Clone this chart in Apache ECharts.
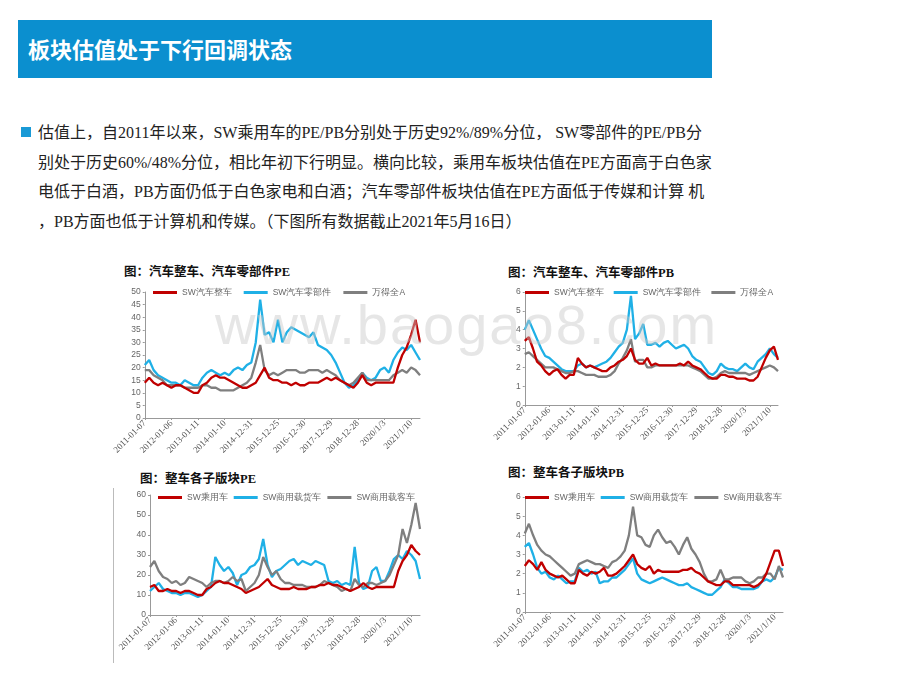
<!DOCTYPE html>
<html><head><meta charset="utf-8">
<script src="https://cdn.jsdelivr.net/npm/echarts@6/dist/echarts.min.js"></script>
<style>
body{margin:0;width:920px;height:690px;background:#fff;position:relative;overflow:hidden;font-family:"Noto Sans CJK SC",sans-serif}
.bar{position:absolute;left:18px;top:20px;width:694px;height:58px;background:#0b8fcf}
.bar span{position:absolute;left:10px;top:12px;color:#fff;font-size:22px;font-weight:bold}
.txt{position:absolute;left:38px;top:118px;font-size:16px;line-height:29.5px;color:#222;white-space:nowrap;font-family:"Liberation Serif","Noto Sans CJK SC",serif}
.txt i{position:absolute;left:-17px;top:9px;width:10px;height:10px;background:#1a9ad6}
.ttl{position:absolute;font-size:12.5px;font-weight:bold;color:#111;font-family:"Liberation Serif","Noto Sans CJK SC",serif}
.ch{position:absolute}
.mark{position:absolute;left:215px;top:292px;font-size:56px;color:rgba(200,200,200,0.45);font-family:"Liberation Sans",sans-serif;letter-spacing:2px}
.vl{position:absolute;left:113px;top:488px;width:1px;height:175px;background:#bbb}
</style></head><body>
<div class="bar"><span>板块估值处于下行回调状态</span></div>
<div class="txt"><i></i>估值上，自2011年以来，SW乘用车的PE/PB分别处于历史92%/89%分位， SW零部件的PE/PB分<br>别处于历史60%/48%分位，相比年初下行明显。横向比较，乘用车板块估值在PE方面高于白色家<br>电低于白酒，PB方面仍低于白色家电和白酒；汽车零部件板块估值在PE方面低于传媒和计算 机<br>，PB方面也低于计算机和传媒。（下图所有数据截止2021年5月16日）</div>
<div class="ttl" style="left:124px;top:261px">图：汽车整车、汽车零部件PE</div>
<div class="ttl" style="left:508px;top:262px">图：汽车整车、汽车零部件PB</div>
<div class="ttl" style="left:140px;top:468px">图：整车各子版块PE</div>
<div class="ttl" style="left:508px;top:462px">图：整车各子版块PB</div>
<div class="vl"></div>
<div id="c1" class="ch" style="left:110px;top:280px;width:320px;height:185px"></div>
<div id="c2" class="ch" style="left:490px;top:280px;width:300px;height:180px"></div>
<div id="c3" class="ch" style="left:115px;top:485px;width:315px;height:185px"></div>
<div id="c4" class="ch" style="left:490px;top:485px;width:305px;height:180px"></div>
<div class="mark">www.baogao8.com</div>
<script>
// bimonthly points 2011-01 .. 2021-05, tick labels every 6 points
const tickLabels = ["2011-01-07","2012-01-06","2013-01-11","2014-01-10","2014-12-31","2015-12-25","2016-12-30","2017-12-29","2018-12-28","2020/1/3","2021/1/10"];
const categories = [];
for (let y = 0; y < 11; y++) for (let m = 0; m < 6; m++) {
  if (categories.length < 63) categories.push(m === 0 ? tickLabels[y] : (2011 + y) + "-" + (m * 2 + 1));
}

const pe_zc = [14,16,14,13,14,13, 12,13,13,12,11,10, 10,13,14,16,17,16, 16,15,14,13,12,12, 13,14,17,20,16,15, 15,14,14,13,14,13, 13,14,14,14,15,16, 15,16,15,14,13,12, 14,17,14,13,14,14, 14,14,14,20,25,28, 33,39,30];
const pe_lbj = [21,23,19,17,16,15, 14,14,13,15,14,13, 13,16,18,19,18,17, 18,17,19,20,19,21, 22,30,47,33,34,30, 39,30,34,36,35,34, 33,32,34,29,28,27, 25,22,18,14,12,13, 15,18,16,15,16,19, 20,18,23,26,28,27, 29,26,23];
const pe_qa = [19,19,17,16,15,13, 13,13,13,12,12,12, 12,13,13,12,12,11, 11,11,11,12,13,14, 16,22,29,19,17,18, 17,18,19,19,19,18, 18,19,19,19,18,19, 18,17,15,14,13,14, 16,18,15,15,15,15, 15,15,17,18,19,18, 20,19,17];

const pb_zc = [3.4,3.6,3.0,2.3,2.1,1.8, 1.6,1.8,1.9,1.6,1.4,1.6, 1.6,2.5,2.2,2.0,2.1,2.0, 1.9,1.8,1.8,2.0,2.1,2.3, 2.4,2.6,3.0,2.4,2.2,2.2, 2.5,2.1,2.2,2.1,2.1,2.1, 2.1,2.1,2.2,2.1,2.3,2.1, 2.0,1.9,1.7,1.5,1.4,1.4, 1.6,1.6,1.5,1.5,1.4,1.4, 1.4,1.3,1.3,1.5,2.0,2.5, 2.9,3.1,2.4];
const pb_lbj = [4.0,4.5,4.0,3.5,3.0,2.6, 2.5,2.3,2.1,1.9,1.8,1.8, 1.8,2.1,2.2,2.0,2.1,2.0, 2.1,2.2,2.3,2.5,2.8,3.1, 3.3,4.0,5.8,3.5,3.8,4.3, 3.2,3.2,3.3,3.1,3.3,3.4, 3.2,3.0,3.1,3.2,3.0,2.6, 2.4,2.3,2.0,1.7,1.6,1.8, 2.2,2.0,1.9,1.9,1.8,2.0, 2.2,2.0,1.9,2.3,2.5,2.7, 3.0,2.7,2.5];
const pb_qa = [2.7,2.8,2.6,2.4,2.2,2.0, 2.0,2.0,1.9,1.8,1.7,1.7, 1.8,1.8,1.7,1.6,1.6,1.6, 1.5,1.5,1.5,1.6,1.8,2.2, 2.5,2.9,3.5,2.3,2.4,2.4, 2.0,2.0,2.1,2.1,2.1,2.1, 2.1,2.1,2.1,2.1,2.1,2.0, 1.9,1.8,1.6,1.4,1.4,1.5, 1.7,1.8,1.7,1.7,1.7,1.7, 1.7,1.6,1.7,1.8,1.9,2.0, 2.1,2.0,1.8];

const pe_cyc = [14,15,12,12,13,12, 12,11,12,12,11,10, 10,13,14,16,17,16, 16,15,14,13,11,12, 13,14,16,18,15,14, 13,13,13,14,13,13, 13,14,14,15,15,16, 15,15,14,13,12,13, 14,16,14,13,14,14, 14,14,14,22,27,30, 35,32,30];
const pe_hc = [12,14,16,13,12,11, 11,10,11,11,10,9, 10,12,14,29,25,22, 24,21,15,20,21,24, 25,28,38,25,19,22, 23,25,27,28,25,27, 26,25,27,26,25,17, 16,17,15,16,15,34, 16,13,14,22,24,17, 17,22,28,30,28,32, 30,27,18];
const pe_kc = [24,27,22,19,18,16, 17,15,16,19,18,17, 16,14,16,17,17,16, 17,19,17,18,12,14, 16,20,29,24,20,22, 18,16,16,15,15,15, 14,14,14,15,17,16, 15,14,12,13,12,18, 15,14,16,16,15,16, 17,20,25,30,43,36, 45,56,43];

const pb_cyc = [2.4,2.7,2.5,2.2,2.6,2.2, 2.0,1.9,1.8,1.9,1.7,1.5, 1.5,2.2,2.0,1.9,2.1,2.0, 2.1,2.3,1.9,1.9,2.0,2.2, 2.4,2.7,3.0,2.5,2.3,2.2, 2.4,2.0,2.2,2.1,2.1,2.1, 2.1,2.1,2.2,2.2,2.3,2.1, 2.0,1.8,1.6,1.5,1.4,1.4, 1.6,1.6,1.4,1.4,1.4,1.4, 1.4,1.3,1.4,1.6,2.0,2.6, 3.2,3.2,2.4];
const pb_hc = [3.4,3.6,3.0,2.3,2.0,2.1, 1.8,1.7,1.9,1.7,1.5,1.6, 1.6,2.3,2.1,2.2,2.0,2.1, 1.5,1.6,1.6,1.8,1.8,2.0, 2.2,2.5,2.8,2.0,1.7,1.6, 1.5,1.6,1.7,1.8,1.7,1.6, 1.5,1.4,1.4,1.5,1.3,1.2, 1.1,1.0,0.9,0.9,1.1,1.3, 1.7,1.5,1.3,1.3,1.2,1.2, 1.2,1.2,1.3,1.6,1.7,1.6, 1.8,2.3,2.2];
const pb_kc = [4.1,4.6,4.0,3.5,3.2,3.0, 2.9,2.7,2.5,2.3,2.1,1.9, 2.0,2.5,2.6,2.7,2.6,2.5, 2.5,2.4,2.3,2.6,2.7,2.9, 3.2,4.0,5.5,4.0,3.9,3.5, 3.4,4.0,4.3,3.9,3.6,3.7, 3.4,3.0,3.5,3.9,3.3,3.0, 2.6,2.0,1.6,1.6,1.7,2.2, 1.7,1.7,1.8,1.8,1.8,1.6, 1.5,1.6,1.8,1.8,2.0,2.0, 1.7,2.4,1.8];

const colors = ["#c00000", "#1fb0e6", "#7f7f7f"];

function makeChart(id, grid, yMax, yInt, names, datas, gap, lx) {
  const chart = echarts.init(document.getElementById(id));
  chart.setOption({
    animation: false,
    color: colors,
    grid: grid,
    legend: {
      top: 3, left: lx, width: 400, itemWidth: 24, itemHeight: 3, itemGap: gap,
      icon: "rect", textStyle: { fontSize: 8.5, color: "#666" },
      data: names
    },
    xAxis: {
      type: "category", data: categories, boundaryGap: false,
      axisLine: { lineStyle: { color: "#999" } },
      axisTick: { interval: 5, length: 2 },
      axisLabel: { interval: 5, rotate: 45, fontSize: 9, color: "#555", fontFamily: "Liberation Serif", margin: 4 }
    },
    yAxis: {
      type: "value", min: 0, max: yMax, interval: yInt,
      axisLine: { show: true, lineStyle: { color: "#999" } },
      axisTick: { show: true, length: 2 },
      splitLine: { show: false },
      axisLabel: { fontSize: 8.5, color: "#666", margin: 4 }
    },
    series: names.map((n, i) => ({
      name: n, type: "line", data: datas[i], symbol: "none",
      lineStyle: { width: 2.3 }, z: i === 0 ? 3 : 2
    }))
  });
}

makeChart("c1", { left: 30, right: 10, top: 12, bottom: 47 }, 50, 5,
  ["SW汽车整车", "SW汽车零部件", "万得全A"], [pe_zc, pe_lbj, pe_qa], 12, 38);
makeChart("c2", { left: 21, right: 12, top: 12, bottom: 55 }, 6, 1,
  ["SW汽车整车", "SW汽车零部件", "万得全A"], [pb_zc, pb_lbj, pb_qa], 10, 30);
makeChart("c3", { left: 35, right: 10, top: 10, bottom: 55 }, 60, 10,
  ["SW乘用车", "SW商用载货车", "SW商用载客车"], [pe_cyc, pe_hc, pe_kc], 6, 38);
makeChart("c4", { left: 30, right: 12, top: 12, bottom: 53 }, 6, 1,
  ["SW乘用车", "SW商用载货车", "SW商用载客车"], [pb_cyc, pb_hc, pb_kc], 6, 30);
</script>
</body></html>
